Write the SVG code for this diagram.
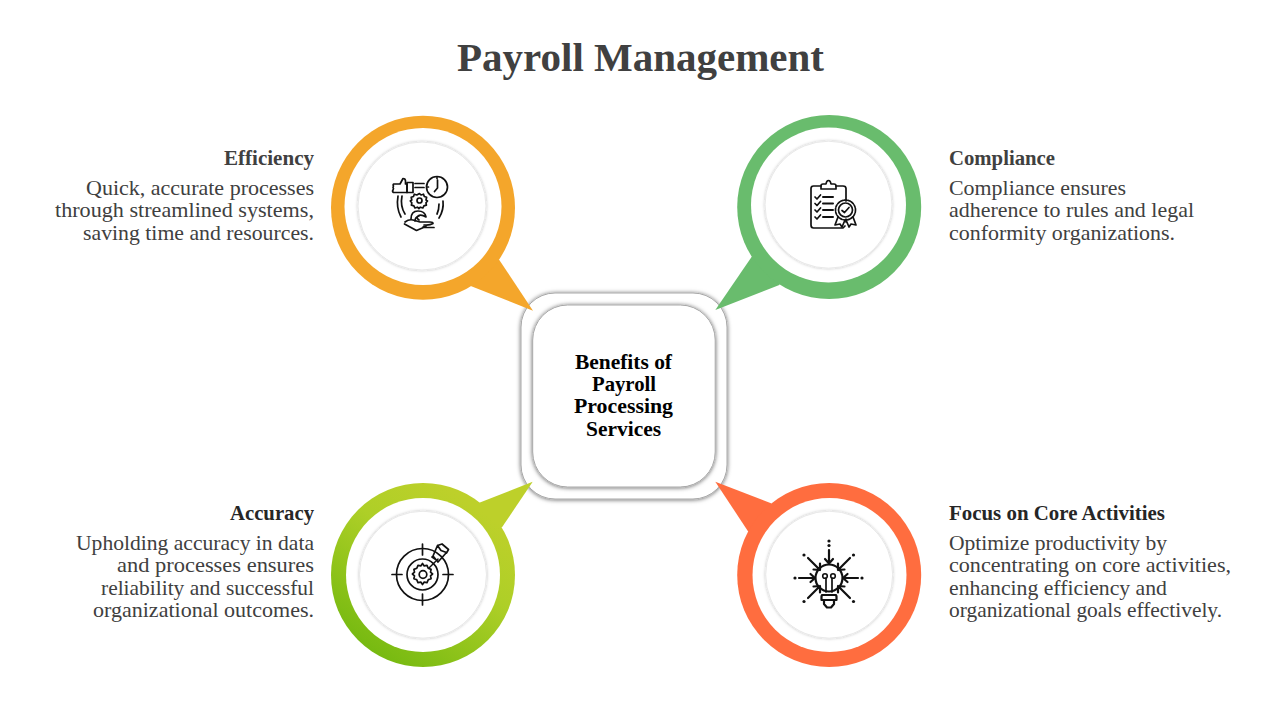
<svg xmlns="http://www.w3.org/2000/svg" width="1280" height="720" viewBox="0 0 1280 720">
<style>
text{font-family:"Liberation Serif","Times New Roman",serif}
.title{font-size:41px;font-weight:700;fill:#404040}
.h{font-size:20.5px;font-weight:700}
.b{font-size:21px;fill:#404040}
.c{font-size:21.5px;font-weight:700;fill:#000}
.hd{fill:#404040}.hk{fill:#262626}
.hole{fill:#fff}
.disc{fill:#fff;stroke:#e8e8e8;stroke-width:1;filter:url(#ds)}
.box{fill:#fff;stroke:#a8a8a8;stroke-width:1;filter:url(#bs)}
.i{fill:none;stroke:#111;stroke-width:1.7;stroke-linecap:round;stroke-linejoin:round}
.t{stroke-width:2.2}
.k{fill:#111;stroke:none}
</style>
<defs>
<filter id="ds" x="-10%" y="-10%" width="120%" height="120%"><feDropShadow dx="0" dy="0" stdDeviation="1.5" flood-color="#000" flood-opacity=".25"/></filter>
<filter id="bs" x="-10%" y="-10%" width="120%" height="120%"><feDropShadow dx="0" dy="0.5" stdDeviation="2" flood-color="#000" flood-opacity=".6"/></filter>
<linearGradient id="gg" gradientUnits="userSpaceOnUse" x1="375" y1="665" x2="480" y2="510"><stop offset="0" stop-color="#72B80F"/><stop offset=".65" stop-color="#AECF27"/><stop offset="1" stop-color="#BDD02A"/></linearGradient>
</defs>
<rect width="1280" height="720" fill="#fff"/>
<text class="title" x="457" y="71" textLength="367" lengthAdjust="spacingAndGlyphs">Payroll Management</text>

<g id="center">
<rect class="box" x="521" y="293" width="206" height="206" rx="34"/>
<rect class="box" x="532.7" y="305" width="182.5" height="182" rx="35"/>
<g class="c">
<text x="575" y="369" textLength="97" lengthAdjust="spacingAndGlyphs">Benefits of</text>
<text x="592" y="391" textLength="64" lengthAdjust="spacingAndGlyphs">Payroll</text>
<text x="574" y="413" textLength="99" lengthAdjust="spacingAndGlyphs">Processing</text>
<text x="586" y="436" textLength="75" lengthAdjust="spacingAndGlyphs">Services</text>
</g>
</g>

<g id="connectors">
<polygon fill="#F4A62B" points="533,310.7 499.3,260 470,250 470.7,286"/>
<polygon fill="#69BC6D" points="715.3,310 751.7,256.7 790,250 779.3,285"/>
<polygon fill="#BDD02A" points="532.7,481.7 479.3,502.7 470,535 502,527.3"/>
<polygon fill="#FF6D3F" points="715.3,481.7 771,503.3 785,535 748.3,531.7"/>
</g>

<g id="efficiency">
<circle cx="423" cy="207.8" r="92" fill="#F4A62B"/>
<circle class="hole" cx="423" cy="206.5" r="78.5"/>
<circle class="disc" cx="422" cy="206" r="64"/>
<g class="i">
<circle cx="437" cy="187" r="10.5"/>
<path d="M437.5 180v8l-3 3.5M437 177.5v1M427.5 187h1"/>
<path d="M393.5 184h6.500l3-5.500q2.500 0 2.500 2.500v3h1.500v8.500h-13.500q-1.500-1-.5-2.500l.5-1.500q-1-1 0-2.500q-1-1.500.5-2z"/>
<rect x="407" y="182.500" width="6" height="10"/>
<path d="M415 183.500h9M415 187.500h9"/>
<circle cx="419.500" cy="200.500" r="2.500"/>
<path d="M419.500 193.500l1.500 1.500 2.500-.8 .8 2.300 2.300.8-.6 2.700 1.500 1-1.500 1.800.4 2.400-2.500.6-1 2.200-2.500-.8-1.500 1.300-1.500-1.300-2.500.8-1-2.200-2.500-.6.400-2.400-1.500-1.800 1.500-1-.6-2.700 2.300-.8.800-2.300 2.500.8z"/>
<path d="M398 196q-2 12 3 21M402 196q-2 10 3 18M443 201q1 9-4 17M439 204q0 6-2 10"/>
<path d="M411 219q0-8 7-8q7 0 8 6q-5-3-8-1q-2 2 1 4M415 221q0-4 4-5"/>
<path d="M405 222q4-3 8-2l7 2h10q3 0 3 1.500q-3 2-9 1.500M404.500 224l12 6.500 7-3h10.500M426 226l-3 1"/>
</g>
</g>

<g id="compliance">
<circle cx="829.200" cy="207" r="92" fill="#69BC6D"/>
<circle class="hole" cx="828.500" cy="205" r="77.500"/>
<circle class="disc" cx="828.500" cy="204.700" r="63.500"/>
<g class="i">
<path d="M836 186h7q3 0 3 2.500v12.500M846 219v3M821 186h-7.500q-2.500 0-2.500 2.500v36.500q0 3 2.500 3h29.500l2-2"/>
<path d="M821 189v-3q0-2 2-2h3q.5-3.500 2.500-3.500t2.500 3.500h3q2 0 2 2v3z"/>
<path d="M815 197l2 2 3.500-4M815 203.500l2 2 3.500-4M815 210l2 2 3.500-4M815 217l2 2 3.500-4"/>
<path d="M823 197h10M823 203.500h10M823 210h10M823 217h10" stroke-width="2"/>
<circle cx="845.500" cy="210" r="7"/>
<circle cx="845.500" cy="210" r="10" stroke-dasharray="2.500 1.300"/>
<path d="M842 210.500l2.500 2 4.500-5"/>
<path d="M838 217l-3 8 5-1 2 3 3-7M853 217l3 8-5-1-2 3-3-7"/>
</g>
</g>

<g id="accuracy">
<circle cx="423" cy="575" r="92" fill="url(#gg)"/>
<circle class="hole" cx="423" cy="575" r="77"/>
<circle class="disc" cx="423" cy="574.700" r="63.500"/>
<g class="i">
<circle cx="422.500" cy="574.500" r="26"/>
<circle cx="422.500" cy="574.500" r="15.500"/>
<path d="M422.500 544v11M422.500 594v11M392 574.500h10M443 574.500h10"/>
<path d="M426 571l12-12" stroke-width="1.500"/>
<path d="M433 556l4.500-10.500 3.500 5 5.500 2-8.500 9.500zM437.500 545.500l4.500-1.500M446.500 553l2-3.500M442 544l6.500 5.500M435 559l-3-2" />
<path d="M422.500 563.500l1.700 2.400 2.800-.6 1.200 2.900 2.900 1.200-.6 2.800 2.100 1.800-2.100 1.800.6 2.800-2.900 1.200-1.200 2.900-2.800-.6-1.700 2.400-1.700-2.400-2.800.6-1.200-2.900-2.900-1.200.6-2.800-2.100-1.800 2.100-1.800-.6-2.800 2.900-1.200 1.200-2.900 2.800.6z" fill="#fff"/>
<circle cx="423" cy="574.500" r="3.800"/>
</g>
</g>

<g id="focus">
<circle cx="829.200" cy="575" r="92" fill="#FF6D3F"/>
<circle class="hole" cx="829.500" cy="575" r="77"/>
<circle class="disc" cx="829.200" cy="574.700" r="63.500"/>
<g class="i t">
<circle cx="829" cy="578" r="13.500"/>
<path d="M822 595h14M823 595h12q1.500 0 1.500 1.500v3.500h-15v-3.500q0-1.500 1.500-1.500zM824 600v4l3 3.500h4l3-3.500v-4"/>
<path d="M826 592v-14M832 592v-14" stroke-width="1.700"/>
<circle cx="825" cy="576" r="2.300" stroke-width="1.600"/>
<circle cx="833" cy="576" r="2.300" stroke-width="1.600"/>
<path d="M829 550v13.500M825 559l4 4.500 4-4.500"/>
<path d="M799 578h16M810.500 574l4.500 4-4.500 4M858 578h-15M847.500 574l-4.500 4 4.500 4"/>
<path d="M808 558l12 12M813.500 569.500l6.500.5v-6.500M850 558l-12 12M844.500 569.500l-6.500.5v-6.500"/>
<path d="M808 598l12-12M813.500 586.500l6.500-.5v6.500M850 598l-12-12M844.500 586.500l-6.500-.5v6.500"/>
</g>
<g class="k">
<circle cx="795" cy="578" r="1.600"/><circle cx="862" cy="578" r="1.600"/>
<circle cx="804" cy="555" r="1.600"/><circle cx="853.500" cy="555" r="1.600"/>
<circle cx="804" cy="601.500" r="1.600"/><circle cx="853.500" cy="601.500" r="1.600"/>
<circle cx="829" cy="541" r="1.600"/><circle cx="829" cy="545.500" r="1.600"/>
</g>
</g>

<g id="label-efficiency">
<text class="h hd" x="224" y="165" textLength="90" lengthAdjust="spacingAndGlyphs">Efficiency</text>
<text class="b" x="86" y="195" textLength="228" lengthAdjust="spacingAndGlyphs">Quick, accurate processes</text>
<text class="b" x="55" y="217" textLength="259" lengthAdjust="spacingAndGlyphs">through streamlined systems,</text>
<text class="b" x="83" y="240" textLength="231" lengthAdjust="spacingAndGlyphs">saving time and resources.</text>
</g>
<g id="label-compliance">
<text class="h hd" x="949" y="165" textLength="106" lengthAdjust="spacingAndGlyphs">Compliance</text>
<text class="b" x="949" y="195" textLength="177" lengthAdjust="spacingAndGlyphs">Compliance ensures</text>
<text class="b" x="949" y="217" textLength="245" lengthAdjust="spacingAndGlyphs">adherence to rules and legal</text>
<text class="b" x="949" y="240" textLength="226" lengthAdjust="spacingAndGlyphs">conformity organizations.</text>
</g>
<g id="label-accuracy">
<text class="h hk" x="230" y="520" textLength="84" lengthAdjust="spacingAndGlyphs">Accuracy</text>
<text class="b" x="76" y="550" textLength="238" lengthAdjust="spacingAndGlyphs">Upholding accuracy in data</text>
<text class="b" x="117" y="572" textLength="197" lengthAdjust="spacingAndGlyphs">and processes ensures</text>
<text class="b" x="101" y="595" textLength="213" lengthAdjust="spacingAndGlyphs">reliability and successful</text>
<text class="b" x="93" y="617" textLength="221" lengthAdjust="spacingAndGlyphs">organizational outcomes.</text>
</g>
<g id="label-focus">
<text class="h hk" x="949" y="520" textLength="216" lengthAdjust="spacingAndGlyphs">Focus on Core Activities</text>
<text class="b" x="949" y="550" textLength="218" lengthAdjust="spacingAndGlyphs">Optimize productivity by</text>
<text class="b" x="949" y="572" textLength="282" lengthAdjust="spacingAndGlyphs">concentrating on core activities,</text>
<text class="b" x="949" y="595" textLength="218" lengthAdjust="spacingAndGlyphs">enhancing efficiency and</text>
<text class="b" x="949" y="617" textLength="273" lengthAdjust="spacingAndGlyphs">organizational goals effectively.</text>
</g>
</svg>
